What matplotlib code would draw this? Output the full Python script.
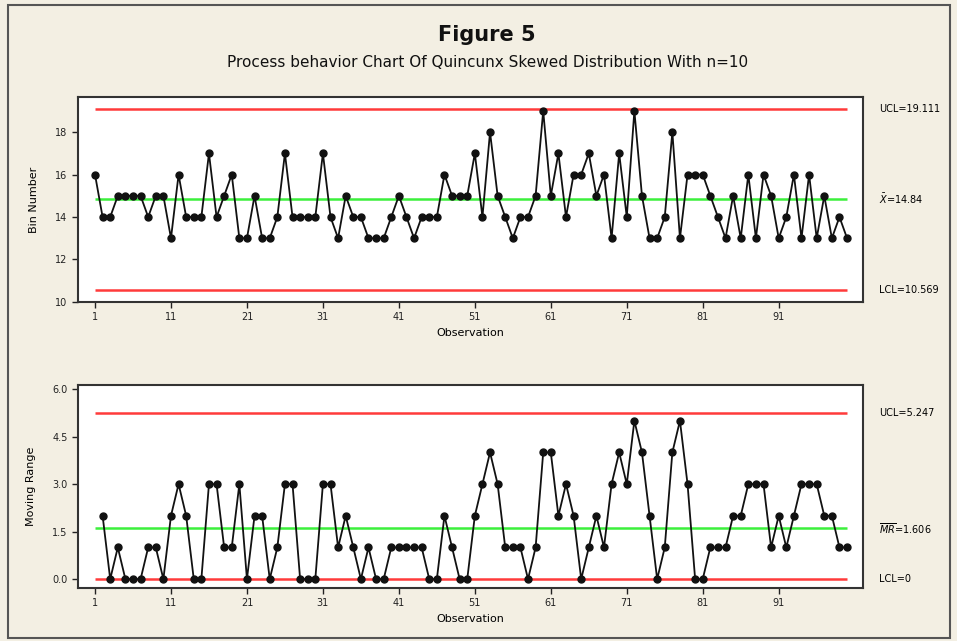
import matplotlib.pyplot as plt
from matplotlib.patches import Rectangle
import numpy as np

bins = [16, 14, 14, 15, 15, 15, 15, 14, 15, 15,
        13, 16, 14, 14, 14, 17, 14, 15, 16, 13,
        13, 15, 13, 13, 14, 17, 14, 14, 14, 14,
        17, 14, 13, 15, 14, 14, 13, 13, 13, 14,
        15, 14, 13, 14, 14, 14, 16, 15, 15, 15,
        17, 14, 18, 15, 14, 13, 14, 14, 15, 19,
        15, 17, 14, 16, 16, 17, 15, 16, 13, 17,
        14, 19, 15, 13, 13, 14, 18, 13, 16, 16,
        16, 15, 14, 13, 15, 13, 16, 13, 16, 15,
        13, 14, 16, 13, 16, 13, 15, 13, 14, 13]

# Control limits printed on the chart
i_ucl, i_mean, i_lcl = 19.111, 14.84, 10.569
mr_ucl, mr_mean, mr_lcl = 5.247, 1.606, 0.0

obs = np.arange(1, len(bins) + 1)
mr = np.abs(np.diff(bins))
mr_obs = obs[1:]

bg = '#f3efe3'
red = '#ff3b3b'
green = '#3cf03c'

fig = plt.figure(figsize=(9.57, 6.41), dpi=100, facecolor=bg)
fig.patches.append(Rectangle((0.008, 0.005), 0.985, 0.987, transform=fig.transFigure,
                             fill=False, edgecolor='#555555', linewidth=1.5))

fig.text(0.509, 0.945, 'Figure 5', ha='center', va='center', fontsize=15,
         fontweight='bold', color='#111111')
fig.text(0.509, 0.902, 'Process behavior Chart Of Quincunx Skewed Distribution With n=10',
         ha='center', va='center', fontsize=11, color='#111111')

ax1 = fig.add_axes([0.0815, 0.529, 0.8203, 0.3198])
ax2 = fig.add_axes([0.0815, 0.0827, 0.8203, 0.3167])


def style(ax):
    ax.set_facecolor('white')
    for s in ax.spines.values():
        s.set_color('#333333')
        s.set_linewidth(1.5)
    ax.tick_params(direction='out', length=4, width=1, labelsize=7, colors='#222222')
    ax.set_xticks(np.arange(1, 100, 10))
    ax.set_xlim(-1.24, 102.1)
    ax.set_xlabel('Observation', fontsize=8, labelpad=4)


# Individuals chart
style(ax1)
ax1.hlines([i_ucl, i_lcl], obs[0], obs[-1], color=red, lw=1.8)
ax1.hlines(i_mean, obs[0], obs[-1], color=green, lw=1.8)
ax1.plot(obs, bins, color='#111111', lw=1.3, marker='o', ms=5, zorder=3)
ax1.set_ylim(10, 19.66)
ax1.set_yticks([10, 12, 14, 16, 18])
ax1.set_ylabel('Bin Number', fontsize=8, labelpad=12)
tr1 = ax1.get_yaxis_transform()
ax1.text(1.02, i_ucl, 'UCL=19.111', transform=tr1, fontsize=7, va='center')
ax1.text(1.02, i_mean, r'$\bar{X}$=14.84', transform=tr1, fontsize=7, va='center')
ax1.text(1.02, i_lcl, 'LCL=10.569', transform=tr1, fontsize=7, va='center')

# Moving range chart
style(ax2)
ax2.hlines([mr_ucl, mr_lcl], obs[0], obs[-1], color=red, lw=1.8)
ax2.hlines(mr_mean, obs[0], obs[-1], color=green, lw=1.8)
ax2.plot(mr_obs, mr, color='#111111', lw=1.3, marker='o', ms=5, zorder=3)
ax2.set_ylim(-0.28, 6.13)
ax2.set_yticks([0, 1.5, 3.0, 4.5, 6.0])
ax2.set_yticklabels(['0.0', '1.5', '3.0', '4.5', '6.0'])
ax2.set_ylabel('Moving Range', fontsize=8, labelpad=12)
tr2 = ax2.get_yaxis_transform()
ax2.text(1.02, mr_ucl, 'UCL=5.247', transform=tr2, fontsize=7, va='center')
ax2.text(1.02, mr_mean, r'$\overline{MR}$=1.606', transform=tr2, fontsize=7, va='center')
ax2.text(1.02, mr_lcl, 'LCL=0', transform=tr2, fontsize=7, va='center')

fig.savefig('out.png', dpi=100, facecolor=bg)
